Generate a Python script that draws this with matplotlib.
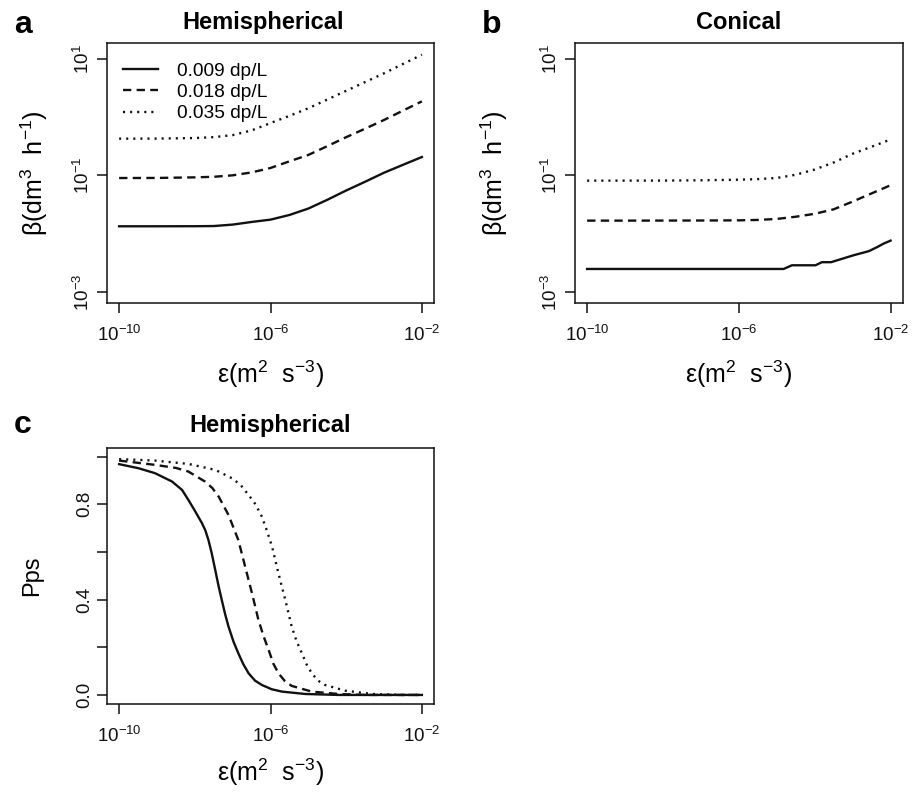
import matplotlib
matplotlib.use('Agg')
import matplotlib.pyplot as plt
import numpy as np
from matplotlib.ticker import NullLocator
from matplotlib.lines import Line2D

plt.rcParams['font.family'] = ['Liberation Sans', 'DejaVu Sans']
plt.rcParams['mathtext.fontset'] = 'custom'
plt.rcParams['mathtext.rm'] = 'Liberation Sans'
plt.rcParams['mathtext.it'] = 'Liberation Sans:italic'
plt.rcParams['mathtext.bf'] = 'Liberation Sans:bold'
plt.rcParams['mathtext.default'] = 'regular'
plt.rcParams['lines.scale_dashes'] = False

# ---------------- data ----------------
series_labels = ['0.009 dp/L', '0.018 dp/L', '0.035 dp/L']

# panel a (Hemispherical, beta in dm3/h)
eps_a = [1e-10, 1e-9, 1e-8, 3.16e-8, 1e-7, 3.16e-7, 1e-6, 3.16e-6, 1e-5,
         3.16e-5, 1e-4, 3.16e-4, 1e-3, 3.16e-3, 1e-2]
beta_a_009 = [0.01337, 0.01337, 0.01340, 0.01349, 0.01429, 0.01585, 0.01738,
              0.02089, 0.02692, 0.03802, 0.05495, 0.07762, 0.1109, 0.1514, 0.2061]
beta_a_018 = [0.0899, 0.0902, 0.0923, 0.0944, 0.1000, 0.1122, 0.1337, 0.1738,
              0.2239, 0.3162, 0.4519, 0.6310, 0.891, 1.288, 1.858]
beta_a_035 = [0.4256, 0.4266, 0.4365, 0.4519, 0.4898, 0.5888, 0.7889, 1.047,
              1.413, 1.995, 2.818, 3.981, 5.623, 8.128, 11.72]

# panel b (Conical)
eps_b_009 = [1e-10, 1.514e-5, 2.512e-5, 1.047e-4, 1.549e-4, 2.69e-4, 4.786e-4,
             1.072e-3, 2.692e-3, 4.467e-3, 6.607e-3, 1e-2]
beta_b_009 = [0.002477, 0.002477, 0.002864, 0.002864, 0.003236, 0.003236,
              0.003631, 0.004266, 0.005012, 0.005888, 0.006761, 0.007586]
eps_b = [1e-10, 1e-9, 1e-8, 1e-7, 1e-6, 3.16e-6, 1e-5, 3.16e-5, 1e-4, 3.16e-4,
         1e-3, 3.16e-3, 1e-2]
beta_b_018 = [0.01671, 0.01671, 0.01675, 0.01679, 0.0169, 0.01718, 0.01786,
              0.0195, 0.02188, 0.02612, 0.03548, 0.04898, 0.06761]
beta_b_035 = [0.0811, 0.0811, 0.08128, 0.08222, 0.08414, 0.0861, 0.09016,
              0.1023, 0.1259, 0.166, 0.2344, 0.309, 0.4121]

# panel c (Hemispherical, Pps)
eps_c_009 = [1e-10, 3.24e-10, 8.91e-10, 2.51e-9, 4.6e-9, 6.76e-9, 1.0e-8,
             1.55e-8, 1.9e-8, 2.29e-8, 2.8e-8, 3.47e-8, 4.2e-8, 5.13e-8, 6.3e-8,
             7.76e-8, 1.05e-7, 1.41e-7, 1.9e-7, 2.63e-7, 3.9e-7, 5.89e-7,
             1.07e-6, 2.0e-6, 8.32e-6, 6.31e-5, 1e-2]
pps_c_009 = [0.968, 0.951, 0.93, 0.895, 0.86, 0.818, 0.773, 0.72, 0.69, 0.65,
             0.594, 0.524, 0.46, 0.40, 0.34, 0.287, 0.224, 0.175, 0.130, 0.091,
             0.060, 0.042, 0.024, 0.014, 0.004, 0.0, 0.0]
eps_c_018 = [1e-10, 8.91e-10, 3.2e-9, 6.76e-9, 1.86e-8, 2.9e-8, 4.27e-8,
             7.76e-8, 1.41e-7, 2.14e-7, 3.24e-7, 4.79e-7, 6.6e-7, 8.91e-7,
             1.2e-6, 1.62e-6, 2.4e-6, 3.63e-6, 1.23e-5, 6.31e-5, 3.16e-4, 1e-2]
pps_c_018 = [0.983, 0.965, 0.952, 0.937, 0.895, 0.868, 0.832, 0.755, 0.65,
             0.538, 0.427, 0.315, 0.245, 0.189, 0.13, 0.091, 0.058, 0.038,
             0.014, 0.004, 0.0, 0.0]
eps_c_035 = [1e-10, 8.91e-10, 6.76e-9, 3.47e-8, 9.55e-8, 1.6e-7, 2.63e-7,
             4.0e-7, 5.89e-7, 8.0e-7, 1.10e-6, 1.62e-6, 2.45e-6, 3.63e-6,
             4.9e-6, 6.76e-6, 9.0e-6, 1.23e-5, 1.8e-5, 2.75e-5, 9.33e-5,
             4.79e-4, 3.16e-3, 1e-2]
pps_c_035 = [0.989, 0.983, 0.969, 0.944, 0.909, 0.882, 0.839, 0.80, 0.748,
             0.69, 0.622, 0.51, 0.40, 0.287, 0.225, 0.175, 0.128, 0.091, 0.06,
             0.042, 0.018, 0.004, 0.0, 0.0]

log_xticks = [1e-10, 1e-6, 1e-2]
log_xticklabels = [r'$10^{-10}$', r'$10^{-6}$', r'$10^{-2}$']
log_yticks = [1e-3, 1e-1, 1e1]
log_yticklabels = [r'$10^{-3}$', r'$10^{-1}$', r'$10^{1}$']
pps_ticks = [0.0, 0.2, 0.4, 0.6, 0.8, 1.0]
pps_ticklabels = ['0.0', '', '0.4', '', '0.8', '']

# ---------------- style ----------------
LC = '#111111'
styles = ['-', (0, (6, 3.8)), (0, (1.5, 3.6))]
LW = 1.7
W, H = 918, 793

fig = plt.figure(figsize=(9.18, 7.93), dpi=100)
ax_a = fig.add_axes([107 / W, 1 - 303 / H, 327 / W, 260 / H])
ax_b = fig.add_axes([575 / W, 1 - 303 / H, 327.7 / W, 260 / H])
ax_c = fig.add_axes([107 / W, 1 - 704 / H, 327 / W, 256.3 / H])

xlab = r'$\varepsilon(\mathrm{m^2\ \ s^{-3}})$'
ylab_beta = r'$\beta(\mathrm{dm^3\ \ h^{-1}})$'


def style_axes(ax):
    for s in ax.spines.values():
        s.set_linewidth(1.1)
        s.set_color('#111111')
    ax.tick_params(which='major', direction='out', length=7, width=1.1,
                   labelsize=13.5, colors='#111111')
    ax.tick_params(axis='x', pad=9)
    ax.tick_params(axis='y', labelrotation=90, pad=3)
    for lbl in ax.get_yticklabels():
        lbl.set_va('center')


# panel a
ax = ax_a
ax.set_xscale('log')
ax.set_yscale('log')
for y, ls in zip([beta_a_009, beta_a_018, beta_a_035], styles):
    ax.plot(eps_a, y, color=LC, lw=LW, linestyle=ls)
ax.set_xlim(10 ** -10.32, 10 ** -1.68)
ax.set_ylim(10 ** -3.19, 10 ** 1.27)

# panel b
ax = ax_b
ax.set_xscale('log')
ax.set_yscale('log')
ax.plot(eps_b_009, beta_b_009, color=LC, lw=LW, linestyle=styles[0])
ax.plot(eps_b, beta_b_018, color=LC, lw=LW, linestyle=styles[1])
ax.plot(eps_b, beta_b_035, color=LC, lw=LW, linestyle=styles[2])
ax.set_xlim(10 ** -10.32, 10 ** -1.68)
ax.set_ylim(10 ** -3.19, 10 ** 1.27)

# panel c
ax = ax_c
ax.set_xscale('log')
ax.plot(eps_c_009, pps_c_009, color=LC, lw=LW, linestyle=styles[0])
ax.plot(eps_c_018, pps_c_018, color=LC, lw=LW, linestyle=styles[1])
ax.plot(eps_c_035, pps_c_035, color=LC, lw=LW, linestyle=styles[2])
ax.set_xlim(10 ** -10.32, 10 ** -1.68)
ax.set_ylim(-0.038, 1.037)

for ax in (ax_a, ax_b, ax_c):
    ax.set_xticks(log_xticks)
    ax.set_xticklabels(log_xticklabels)
    ax.xaxis.set_minor_locator(NullLocator())
    ax.yaxis.set_minor_locator(NullLocator())
for ax in (ax_a, ax_b):
    ax.set_yticks(log_yticks)
    ax.set_yticklabels(log_yticklabels)
ax_c.set_yticks(pps_ticks)
ax_c.set_yticklabels(pps_ticklabels)
for ax in (ax_a, ax_b, ax_c):
    style_axes(ax)

# labels
for ax in (ax_a, ax_b):
    ax.set_xlabel(xlab, fontsize=18)
    ax.xaxis.set_label_coords(0.5, -0.215)
ax_c.set_xlabel(xlab, fontsize=18)
ax_c.xaxis.set_label_coords(0.5, -0.205)
ax_a.set_ylabel(ylab_beta, fontsize=18)
ax_a.yaxis.set_label_coords(-0.174, 0.5)
ax_b.set_ylabel(ylab_beta, fontsize=18)
ax_b.yaxis.set_label_coords(-0.198, 0.5)
ax_c.set_ylabel('Pps', fontsize=17)
ax_c.yaxis.set_label_coords(-0.196, 0.5)

# titles
ax_a.text(0.477, 1.052, 'Hemispherical', transform=ax_a.transAxes,
          ha='center', va='baseline', fontsize=17, fontweight='bold')
ax_b.text(0.5, 1.052, 'Conical', transform=ax_b.transAxes,
          ha='center', va='baseline', fontsize=17, fontweight='bold')
ax_c.text(0.5, 1.06, 'Hemispherical', transform=ax_c.transAxes,
          ha='center', va='baseline', fontsize=17, fontweight='bold')

# panel letters
fig.text(14 / W, 1 - 33 / H, 'a', fontsize=23, fontweight='bold', va='baseline')
fig.text(482 / W, 1 - 33 / H, 'b', fontsize=23, fontweight='bold', va='baseline')
fig.text(14 / W, 1 - 433 / H, 'c', fontsize=23, fontweight='bold', va='baseline')

# legend
handles = [Line2D([], [], color=LC, lw=LW, linestyle=ls) for ls in styles]
ax_a.legend(handles, series_labels, loc='upper left', bbox_to_anchor=(0.049, 0.925),
            frameon=False, fontsize=13.8, handlelength=1.83, handletextpad=1.0,
            labelspacing=0.2, borderpad=0, borderaxespad=0)

fig.savefig('out.png', dpi=100)
